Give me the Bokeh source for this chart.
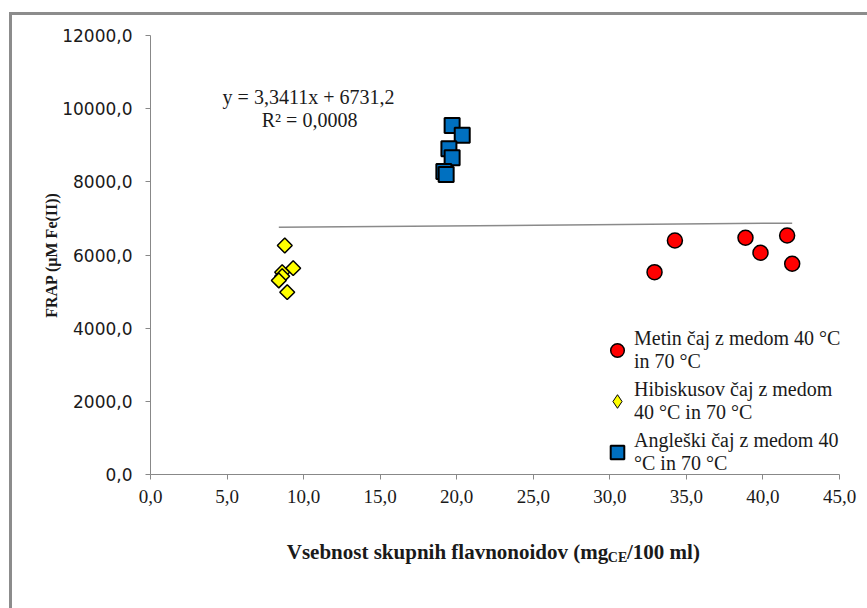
import numpy as np
from bokeh.plotting import figure
from bokeh.models import Range1d, FixedTicker, Label, Legend, LegendItem, Title
from bokeh.embed import file_html
from bokeh.resources import INLINE

# ---- data ----
series_names = ["Metin čaj z medom 40 °C\nin 70 °C",
                "Hibiskusov čaj z medom\n40 °C in 70 °C",
                "Angleški čaj z medom 40\n°C in 70 °C"]
metin_x = [34.25, 32.92, 38.86, 39.84, 41.58, 41.91]
metin_y = [6397, 5530, 6471, 6061, 6534, 5760]
hib_x = [8.77, 9.32, 8.60, 8.60, 8.38, 8.93]
hib_y = [6260, 5640, 5530, 5421, 5304, 4984]
ang_x = [19.70, 20.36, 19.49, 19.70, 19.16, 19.31]
ang_y = [9541, 9275, 8904, 8658, 8283, 8201]
trend_slope = 3.3411
trend_intercept = 6731.2
eq_text = "y = 3,3411x + 6731,2"
r2_text = "R² = 0,0008"
x_ticks = [0, 5, 10, 15, 20, 25, 30, 35, 40, 45]
x_tick_labels = ["0,0", "5,0", "10,0", "15,0", "20,0", "25,0", "30,0", "35,0", "40,0", "45,0"]
y_ticks = [0, 2000, 4000, 6000, 8000, 10000, 12000]
y_tick_labels = ["0,0", "2000,0", "4000,0", "6000,0", "8000,0", "10000,0", "12000,0"]
x_title_main = "Vsebnost skupnih  flavnonoidov (mg"
x_title_sub = "CE"
x_title_end = "/100 ml)"
y_title = "FRAP (µM Fe(II))"

SERIF = "Liberation Serif"
AXIS_GRAY = "#888888"
TXT = "#1a1a1a"

# layout (window pixels): x 0..45 -> 150..839, y 0..12000 -> 474..35
W, H = 867, 608
FL, FR, FT, FB = 150, 839, 35, 474
X_END = 45 * (W - FL) / (FR - FL)

p = figure(width=W, height=H, output_backend="svg", toolbar_location=None,
           x_range=Range1d(0, X_END), y_range=Range1d(0, 12000),
           min_border_left=FL, min_border_right=0, min_border_top=FT,
           min_border_bottom=H - FB)
p.outline_line_color = None
p.grid.visible = False
p.background_fill_color = "white"
p.border_fill_alpha = 0
# chart-area border (left and top edges; the rest lies beyond the window)
p.styles = {"box-shadow": "inset 9px 12px 0 0 #ffffff, inset 12px 15px 0 0 #8c8c8c"}

# axes
p.xaxis.ticker = FixedTicker(ticks=x_ticks)
p.xaxis.major_label_overrides = dict(zip(x_ticks, x_tick_labels))
p.xaxis.bounds = (0, 45)
p.yaxis.ticker = FixedTicker(ticks=y_ticks)
p.yaxis.major_label_overrides = dict(zip(y_ticks, y_tick_labels))
for ax in (p.xaxis, p.yaxis):
    ax.axis_line_color = AXIS_GRAY
    ax.major_tick_line_color = AXIS_GRAY
    ax.major_tick_out = 5
    ax.major_tick_in = 0
    ax.minor_tick_line_color = None
    ax.major_label_text_color = TXT
p.xaxis.major_label_text_font = SERIF
p.xaxis.major_label_text_font_size = "19px"
p.xaxis.major_label_standoff = 10
p.yaxis.major_label_text_font = "DejaVu Sans"
p.yaxis.major_label_text_font_size = "17px"
p.yaxis.major_label_standoff = 13

# y-axis title (side panel, nudged up like the reference)
p.add_layout(Title(text=y_title, align="center", offset=14, standoff=0,
                   text_font=SERIF, text_font_size="16px", text_font_style="bold",
                   text_color=TXT), "left")

# trend line
all_x = metin_x + hib_x + ang_x
tx = np.array([min(all_x), max(all_x)])
ty = trend_slope * tx + trend_intercept
p.line(tx, ty, line_color="#8a8a8a", line_width=1.5)

# series
r_metin = p.scatter(metin_x, metin_y, marker="circle", size=15,
                    fill_color="#ff0000", line_color="black", line_width=1.5)
# diamond key for the legend (hidden under the rotated squares below)
r_hib_key = p.scatter(hib_x, hib_y, marker="diamond", size=13,
                      fill_color="#ffff00", line_color="black", line_width=1)
p.scatter(hib_x, hib_y, marker="square", angle=np.pi / 4, size=10.5,
          fill_color="#ffff00", line_color="black", line_width=1.5)
r_ang = p.scatter(ang_x, ang_y, marker="square", size=15,
                  fill_color="#0070c0", line_color="black", line_width=2)

legend = Legend(items=[LegendItem(label=series_names[0], renderers=[r_metin]),
                       LegendItem(label=series_names[1], renderers=[r_hib_key]),
                       LegendItem(label=series_names[2], renderers=[r_ang])],
                location=(450, -1), orientation="vertical")
legend.border_line_color = None
legend.background_fill_alpha = 0
legend.padding = 0
legend.margin = 0
legend.spacing = 5
legend.glyph_width = 34
legend.glyph_height = 34
legend.label_standoff = 0
legend.label_text_font = SERIF
legend.label_text_font_size = "20px"
legend.label_text_line_height = 1.2
legend.label_text_color = TXT
p.add_layout(legend)

# regression text
p.add_layout(Label(x=10.32, y=10306, text=eq_text, text_align="center", text_baseline="middle",
                   text_font=SERIF, text_font_size="20px", text_color=TXT))
p.add_layout(Label(x=10.39, y=9677, text=r2_text, text_align="center", text_baseline="middle",
                   text_font=SERIF, text_font_size="20px", text_color=TXT))

# x-axis title with subscript (placed in the panel below the frame)
p.add_layout(Label(x=30.24, y=-2105, text=x_title_main, text_align="right", text_baseline="middle",
                   text_font=SERIF, text_font_size="21px", text_font_style="bold",
                   text_color=TXT), "below")
p.add_layout(Label(x=29.87, y=-2270, text=x_title_sub, text_align="left", text_baseline="middle",
                   text_font=SERIF, text_font_size="14px", text_font_style="bold",
                   text_color=TXT), "below")
p.add_layout(Label(x=31.12, y=-2105, text=x_title_end, text_align="left", text_baseline="middle",
                   text_font=SERIF, text_font_size="21px", text_font_style="bold",
                   text_color=TXT), "below")

open("out.html", "w").write(file_html(p, INLINE))
